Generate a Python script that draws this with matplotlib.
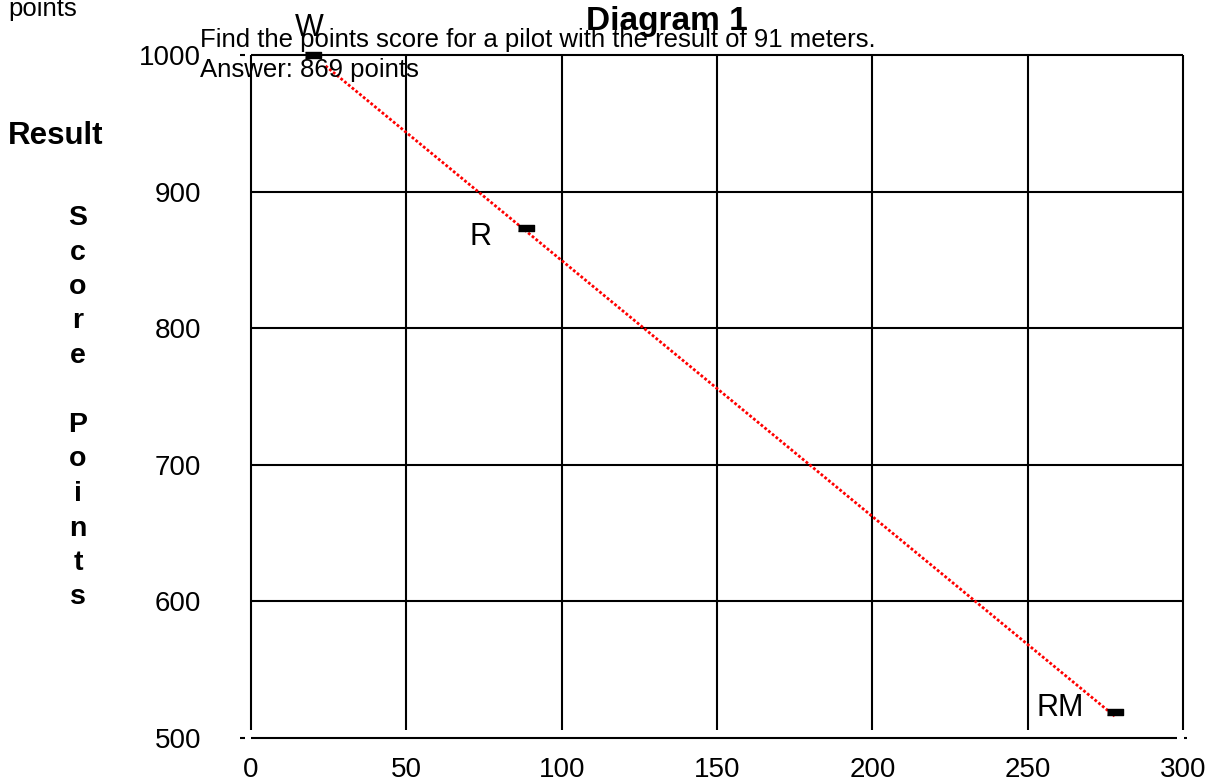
"""
Diagram 1 - score points against result (meters), with W / R / RM marks.

Output:
    out.png
"""
import matplotlib.pyplot as plt

W_PX, H_PX = 1208, 783
FONT = "Liberation Sans"

# data
x_ticks = [0, 50, 100, 150, 200, 250, 300]
y_ticks = [500, 600, 700, 800, 900, 1000]
line_x = [24, 278]
line_y = [992, 516]
mark_names = ["W", "R", "RM"]
mark_x = [20, 88.5, 278]
mark_y = [1000, 873, 519]
axis_letters = "Score Points"

INK = "#000000"
LW = 1.5


def px(x, y):
    """pixel position -> figure fraction"""
    return x / W_PX, 1 - y / H_PX


def main() -> None:
    plt.rcParams["font.family"] = [FONT, "DejaVu Sans"]

    fig = plt.figure(figsize=(W_PX / 100, H_PX / 100), dpi=100)
    l, b = px(251, 738)
    r, t = px(1183, 55)
    ax = fig.add_axes([l, b, r - l, t - b])
    ax.set_xlim(0, 300)
    ax.set_ylim(500, 1000)
    for s in ax.spines.values():
        s.set_visible(False)

    # grid / frame
    ax.vlines(x_ticks, 506, 1000, color=INK, lw=LW, clip_on=False)
    ax.hlines(y_ticks[1:], 0, 300, color=INK, lw=LW, clip_on=False)
    ax.hlines(500, 0, 298, color=INK, lw=LW, clip_on=False)
    ax.hlines(500, 300.3, 301.2, color=INK, lw=LW, clip_on=False)
    ax.hlines([500, 1000], -3.5, -2.0, color=INK, lw=LW, clip_on=False)

    ax.set_xticks(x_ticks)
    ax.set_yticks(y_ticks)
    ax.set_xticklabels([str(v) for v in x_ticks], fontsize=20)
    ax.set_yticklabels([str(v) for v in y_ticks], fontsize=20)
    ax.tick_params(axis="x", length=0, pad=14)
    ax.tick_params(axis="y", length=0, pad=36)

    # red result line
    ax.plot(line_x, line_y, color="red", lw=2.0, ls=(0, (1.0, 0.75)),
            solid_capstyle="butt", clip_on=False, zorder=3)

    bar = [(-1.25, -0.5), (1.25, -0.5), (1.25, 0.5), (-1.25, 0.5)]
    ax.plot(mark_x, mark_y, ls="none", marker=bar, markersize=11,
            color=INK, clip_on=False, zorder=4)

    label_off = [(-1.3, 14), (-14.5, -12), (-17.6, -3)]
    for name, x, y, (dx, dy) in zip(mark_names, mark_x, mark_y, label_off):
        ax.text(x + dx, y + dy, name, fontsize=22, ha="center",
                va="baseline", color=INK, clip_on=False, zorder=5)

    # texts around the chart
    fig.text(*px(8, 16), "points", fontsize=18.5, va="baseline")
    fig.text(*px(586, 30), "Diagram 1", fontsize=24, fontweight="bold",
             va="baseline")
    fig.text(*px(200, 47),
             "Find the points score for a pilot with the result of 91 meters.",
             fontsize=18.5, va="baseline")
    fig.text(*px(200, 77), "Answer: 869 points", fontsize=18.5,
             va="baseline")
    fig.text(*px(8, 144), "Result", fontsize=22.5, fontweight="bold",
             va="baseline")
    for i, ch in enumerate(axis_letters):
        if ch == " ":
            continue
        fig.text(*px(78, 225 + i * 34.5), ch, fontsize=20.5,
                 fontweight="bold", ha="center", va="baseline")

    fig.savefig("out.png", dpi=100)
    plt.close(fig)


if __name__ == "__main__":
    main()
